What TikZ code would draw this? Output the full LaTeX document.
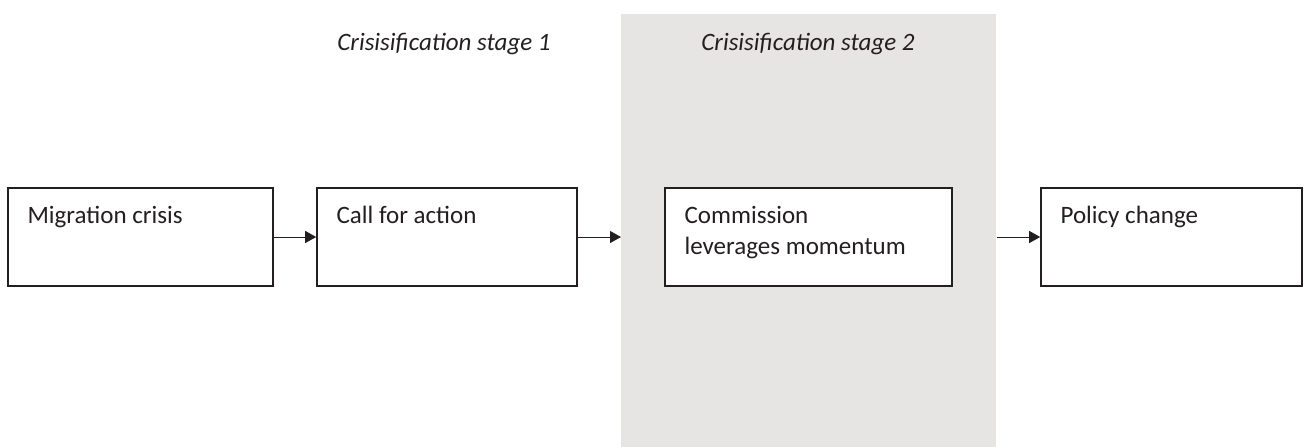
\documentclass[tikz,border=0pt]{standalone}
\usepackage{fontspec}
\setmainfont{Carlito}
\usepackage{xcolor}
\usetikzlibrary{arrows.meta}

\definecolor{panelgray}{RGB}{231,229,227}
\definecolor{inkgray}{RGB}{35,31,32}

\tikzset{
  stagebox/.style={draw=inkgray, fill=white, line width=0.8pt, minimum height=49pt, inner sep=0pt},
  boxtext/.style={label={[anchor=north west, inner sep=0pt, xshift=10pt, yshift=-8pt,
      align=left, text=inkgray, font=\fontsize{12.5}{15.5}\selectfont]north west:\rule{0pt}{10pt}#1}},
  stagetitle/.style={anchor=base west, inner sep=0pt, text=inkgray,
      font=\fontsize{12.5}{15}\selectfont\itshape}
}

\begin{document}
\begin{tikzpicture}[x=0.5pt,y=0.5pt]
\useasboundingbox (0,0) rectangle (1304,447);

% shaded second stage
\node[fill=panelgray, minimum width=187.5pt, minimum height=216.5pt, inner sep=0pt,
      anchor=south west] (stagetwo) at (621,0) {};

\node[stagetitle] (titleone) at (337,397) {Crisisification stage 1};
\node[stagetitle] (titletwo) at (701,397) {Crisisification stage 2};

\node[stagebox, minimum width=132.5pt, boxtext={Migration crisis}] (crisis) at (140.5,210) {};
\node[stagebox, minimum width=130pt, boxtext={Call for action}] (call) at (447,210) {};
\node[stagebox, minimum width=143.5pt, boxtext={Commission\\leverages momentum}] (leverage) at (808.5,210) {};
\node[stagebox, minimum width=130.5pt, boxtext={Policy change}] (policy) at (1171.5,210) {};

\begin{scope}[>={Triangle[length=5.5pt,width=6pt]}, line width=0.5pt, draw=inkgray]
    \draw[->] (crisis) -- (call);
    \draw[->] (call) -- (call -| stagetwo.west);
    \draw[->] (policy -| stagetwo.east) -- (policy);
\end{scope}
\end{tikzpicture}
\end{document}
